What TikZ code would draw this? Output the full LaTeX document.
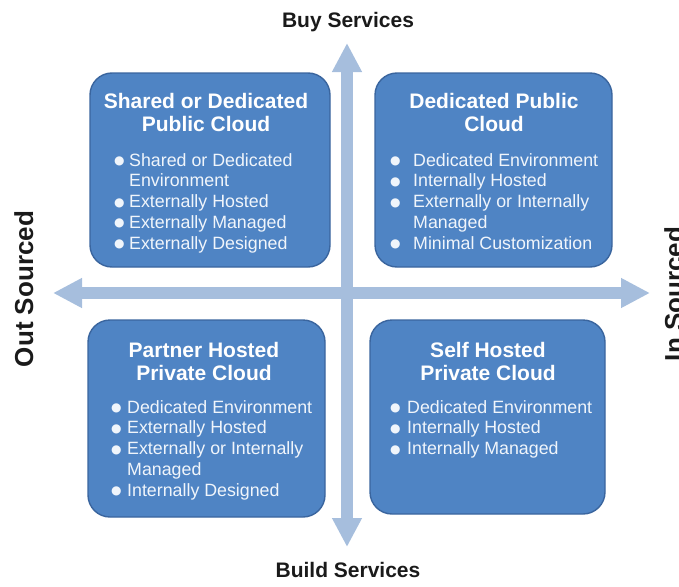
\documentclass[tikz,border=0pt]{standalone}
\usepackage{fontspec}
\setmainfont{Liberation Sans}
\newfontfamily\symfont{DejaVu Sans}
\usetikzlibrary{arrows.meta}

\definecolor{panelfill}{HTML}{4F84C4}
\definecolor{paneledge}{HTML}{3A659E}
\definecolor{axiscol}{HTML}{A6BEDD}
\definecolor{itemink}{HTML}{F0F5FB}
\definecolor{labelink}{HTML}{1A1A1A}

% bullet mark set in a column of the given width
\newcommand\bmark[1]{\makebox[#1][l]{\raisebox{1.5pt}{\symfont\fontsize{12}{12}\selectfont ●}}}

\begin{document}
\begin{tikzpicture}[x=1pt,y=-1pt,
  panel/.style={draw=paneledge, line width=1.4pt, fill=panelfill, rounded corners=22pt, inner sep=0pt},
  heading/.style={text=white, font=\bfseries\fontsize{21}{23}\selectfont, inner sep=0pt, anchor=base},
  items/.style={text=itemink, font=\fontsize{17.8}{20.8}\selectfont, inner sep=0pt, anchor=base west},
  axislabel/.style={text=labelink, font=\bfseries\fontsize{21}{24}\selectfont, inner sep=0pt, anchor=base},
  sidelabel/.style={text=labelink, font=\bfseries\fontsize{26}{28}\selectfont, inner sep=0pt, anchor=base, rotate=90},
  axisline/.style={draw=axiscol, line width=11.5pt,
    {Triangle[width=28pt,length=29pt]}-{Triangle[width=28pt,length=29pt]}}
]
\useasboundingbox (0,0) rectangle (679,586);

% axes
\coordinate (ntip) at (347,43);
\coordinate (stip) at (347,547);
\coordinate (wtip) at (53,293);
\coordinate (etip) at (650,293);
\draw[axisline] (wtip) -- (etip);
\draw[axisline] (ntip) -- (stip);

% axis labels
\node[axislabel] (buy) at (348,28) {Buy Services};
\node[axislabel] (build) at (348,577) {Build Services};
\node[sidelabel] (outs) at (33,289) {Out Sourced};
\node[sidelabel] (ins) at (683,294) {In Sourced};

% quadrant panels
\node[panel, minimum width=240pt, minimum height=194pt] (tl) at (210,170) {};
\node[panel, minimum width=237pt, minimum height=194pt] (tr) at (493.5,170) {};
\node[panel, minimum width=237pt, minimum height=197pt] (bl) at (206.5,418.5) {};
\node[panel, minimum width=235pt, minimum height=194pt] (br) at (487.5,417) {};

% top left
\node[heading] (tlh) at (206,108) {\begin{tabular}[t]{@{}c@{}}Shared or Dedicated\\Public Cloud\end{tabular}};
\node[items] (tli) at (114,166) {\begin{tabular}[t]{@{}l@{}l@{}}
\bmark{15pt} & Shared or Dedicated\\
 & Environment\\
\bmark{15pt} & Externally Hosted\\
\bmark{15pt} & Externally Managed\\
\bmark{15pt} & Externally Designed
\end{tabular}};

% top right
\node[heading] (trh) at (494,108) {\begin{tabular}[t]{@{}c@{}}Dedicated Public\\Cloud\end{tabular}};
\node[items] (tri) at (390,166) {\begin{tabular}[t]{@{}l@{}l@{}}
\bmark{23pt} & Dedicated Environment\\
\bmark{23pt} & Internally Hosted\\
\bmark{23pt} & Externally or Internally\\
 & Managed\\
\bmark{23pt} & Minimal Customization
\end{tabular}};

% bottom left
\node[heading] (blh) at (204,357) {\begin{tabular}[t]{@{}c@{}}Partner Hosted\\Private Cloud\end{tabular}};
\node[items] (bli) at (111,413) {\begin{tabular}[t]{@{}l@{}l@{}}
\bmark{16pt} & Dedicated Environment\\
\bmark{16pt} & Externally Hosted\\
\bmark{16pt} & Externally or Internally\\
 & Managed\\
\bmark{16pt} & Internally Designed
\end{tabular}};

% bottom right
\node[heading] (brh) at (488,357) {\begin{tabular}[t]{@{}c@{}}Self Hosted\\Private Cloud\end{tabular}};
\node[items] (bri) at (390,413) {\begin{tabular}[t]{@{}l@{}l@{}}
\bmark{17pt} & Dedicated Environment\\
\bmark{17pt} & Internally Hosted\\
\bmark{17pt} & Internally Managed
\end{tabular}};
\end{tikzpicture}
\end{document}
